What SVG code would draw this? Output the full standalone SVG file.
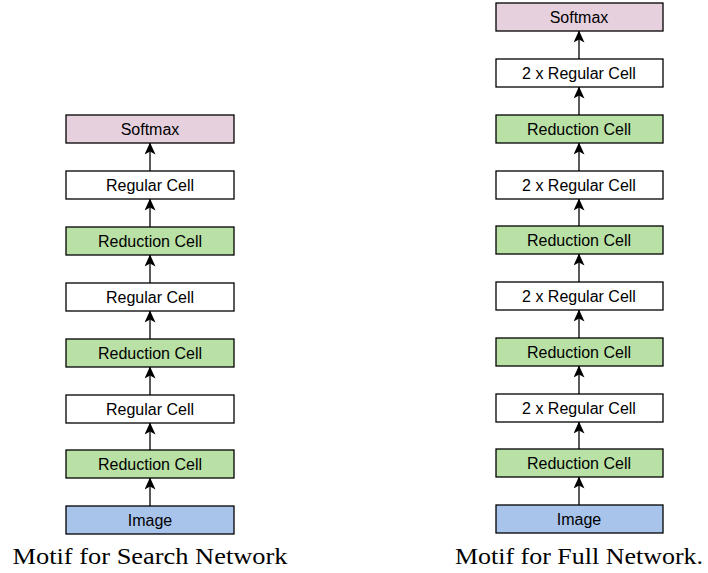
<svg xmlns="http://www.w3.org/2000/svg" width="708" height="573" viewBox="0 0 708 573">
<defs>
<marker id="ah" viewBox="0 0 12 11" refX="11.5" refY="5.5" markerWidth="12" markerHeight="11" markerUnits="userSpaceOnUse" orient="auto">
<path d="M0,0 L12,5.5 L0,11 L3,5.5 Z" fill="#000"/>
</marker>
<style>
rect{stroke:#000;stroke-width:1.3}
.w{fill:#fff}.g{fill:#b9e0a5}.p{fill:#e6d0de}.b{fill:#a9c4eb}
.t{font-family:"Liberation Sans",Arial,sans-serif;font-size:16px;fill:#000;text-anchor:middle;dominant-baseline:central}
.cap{font-family:"Liberation Serif","Times New Roman",serif;font-size:23.5px;fill:#000;text-anchor:middle}
#conn line{stroke:#000;stroke-width:1.3;marker-end:url(#ah)}
</style>
</defs>
<rect width="708" height="573" fill="#fff" style="stroke:none"/>
<g id="L-softmax"><rect class="p" x="66" y="115" width="168" height="28"/><text class="t" x="150" y="129">Softmax</text></g>
<g id="L-reg3"><rect class="w" x="66" y="171" width="168" height="28"/><text class="t" x="150" y="185">Regular Cell</text></g>
<g id="L-red3"><rect class="g" x="66" y="227" width="168" height="28"/><text class="t" x="150" y="241">Reduction Cell</text></g>
<g id="L-reg2"><rect class="w" x="66" y="283" width="168" height="28"/><text class="t" x="150" y="297">Regular Cell</text></g>
<g id="L-red2"><rect class="g" x="66" y="339" width="168" height="28"/><text class="t" x="150" y="353">Reduction Cell</text></g>
<g id="L-reg1"><rect class="w" x="66" y="395" width="168" height="28"/><text class="t" x="150" y="409">Regular Cell</text></g>
<g id="L-red1"><rect class="g" x="66" y="450" width="168" height="28"/><text class="t" x="150" y="464">Reduction Cell</text></g>
<g id="L-image"><rect class="b" x="66" y="506" width="168" height="28"/><text class="t" x="150" y="520">Image</text></g>

<g id="R-softmax"><rect class="p" x="496" y="3" width="167" height="28"/><text class="t" x="579" y="17">Softmax</text></g>
<g id="R-reg4"><rect class="w" x="496" y="59" width="167" height="28"/><text class="t" x="579" y="73">2 x Regular Cell</text></g>
<g id="R-red4"><rect class="g" x="496" y="115" width="167" height="28"/><text class="t" x="579" y="129">Reduction Cell</text></g>
<g id="R-reg3"><rect class="w" x="496" y="171" width="167" height="28"/><text class="t" x="579" y="185">2 x Regular Cell</text></g>
<g id="R-red3"><rect class="g" x="496" y="226" width="167" height="28"/><text class="t" x="579" y="240">Reduction Cell</text></g>
<g id="R-reg2"><rect class="w" x="496" y="282" width="167" height="28"/><text class="t" x="579" y="296">2 x Regular Cell</text></g>
<g id="R-red2"><rect class="g" x="496" y="338" width="167" height="28"/><text class="t" x="579" y="352">Reduction Cell</text></g>
<g id="R-reg1"><rect class="w" x="496" y="394" width="167" height="28"/><text class="t" x="579" y="408">2 x Regular Cell</text></g>
<g id="R-red1"><rect class="g" x="496" y="449" width="167" height="28"/><text class="t" x="579" y="463">Reduction Cell</text></g>
<g id="R-image"><rect class="b" x="496" y="505" width="167" height="28"/><text class="t" x="579" y="519">Image</text></g>

<g id="conn">
<line x1="150" y1="171" x2="150" y2="143"/>
<line x1="150" y1="227" x2="150" y2="199"/>
<line x1="150" y1="283" x2="150" y2="255"/>
<line x1="150" y1="339" x2="150" y2="311"/>
<line x1="150" y1="395" x2="150" y2="367"/>
<line x1="150" y1="450" x2="150" y2="423"/>
<line x1="150" y1="506" x2="150" y2="478"/>
<line x1="579" y1="59" x2="579" y2="31"/>
<line x1="579" y1="115" x2="579" y2="87"/>
<line x1="579" y1="171" x2="579" y2="143"/>
<line x1="579" y1="226" x2="579" y2="199"/>
<line x1="579" y1="282" x2="579" y2="254"/>
<line x1="579" y1="338" x2="579" y2="310"/>
<line x1="579" y1="394" x2="579" y2="366"/>
<line x1="579" y1="449" x2="579" y2="422"/>
<line x1="579" y1="505" x2="579" y2="477"/>
</g>
<text class="cap" x="150" y="564" textLength="275" lengthAdjust="spacingAndGlyphs">Motif for Search Network</text>
<text class="cap" x="579" y="564" textLength="248" lengthAdjust="spacingAndGlyphs">Motif for Full Network.</text>
</svg>
